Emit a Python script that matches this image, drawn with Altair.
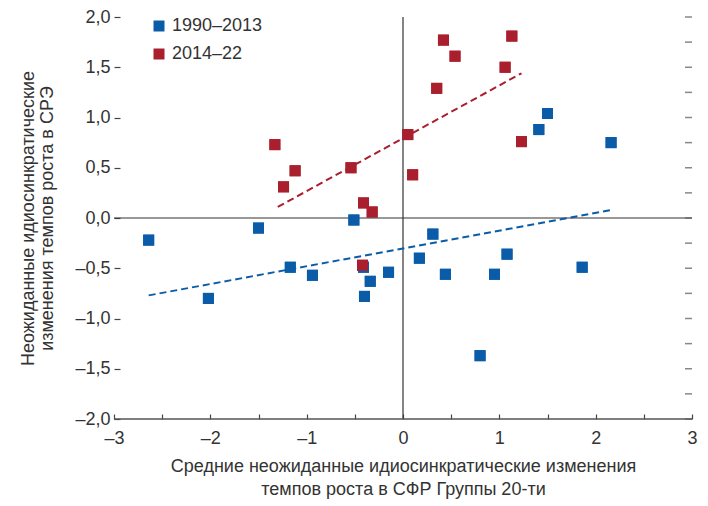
import altair as alt
import pandas as pd

# ---- data ----
series_names = ["1990–2013", "2014–22"]

blue_x = [-2.64, -2.02, -1.50, -1.17, -0.94, -0.51, -0.41, -0.34, -0.40, -0.15,
          0.17, 0.31, 0.44, 0.80, 0.95, 1.08, 1.86, 1.50, 1.41, 2.16]
blue_y = [-0.22, -0.80, -0.10, -0.49, -0.57, -0.02, -0.49, -0.63, -0.78, -0.54,
          -0.40, -0.16, -0.56, -1.37, -0.56, -0.36, -0.49, 1.04, 0.88, 0.75]

red_x = [-1.33, -1.24, -1.12, -0.54, -0.41, -0.32, 0.05, 0.10, 0.35, 0.42,
         0.54, 1.06, 1.13, 1.23, -0.42]
red_y = [0.73, 0.31, 0.47, 0.50, 0.15, 0.06, 0.83, 0.43, 1.29, 1.77,
         1.61, 1.50, 1.81, 0.76, -0.47]

# dashed trend lines (end points)
blue_fit_x = [-2.64, 2.16]
blue_fit_y = [-0.77, 0.08]
red_fit_x = [-1.30, 1.23]
red_fit_y = [0.11, 1.44]

x_ticks = [-3, -2.5, -2, -1.5, -1, -0.5, 0, 0.5, 1, 1.5, 2, 2.5, 3]
y_ticks = [-2, -1.75, -1.5, -1.25, -1, -0.75, -0.5, -0.25, 0,
           0.25, 0.5, 0.75, 1, 1.25, 1.5, 1.75, 2]

x_title = ["Средние неожиданные идиосинкратические изменения",
           "темпов роста в СФР Группы 20-ти"]
y_title = ["Неожиданные идиосинкратические",
           "изменения темпов роста в СРЭ"]

BLUE = "#0a5ca8"
RED = "#aa1f2e"
FONT = "Liberation Sans"

pts = pd.DataFrame({
    "px": blue_x + red_x,
    "py": blue_y + red_y,
    "series": [series_names[0]] * len(blue_x) + [series_names[1]] * len(red_x),
})
fits = pd.DataFrame({
    "fx": blue_fit_x + red_fit_x,
    "fy": blue_fit_y + red_fit_y,
    "series": [series_names[0]] * 2 + [series_names[1]] * 2,
})
hzero = pd.DataFrame({"hx": [-3.0], "hx2": [3.0], "hy": [0.0]})
vzero = pd.DataFrame({"vx": [0.0], "vy": [-2.0], "vy2": [2.0]})
bottom = pd.DataFrame({"bx": [-3.0], "bx2": [3.0], "by": [-2.0]})
right_ticks = pd.DataFrame({"rx": [3.0] * len(y_ticks), "ry": y_ticks})

xs = alt.Scale(domain=[-3, 3], nice=False, zero=False)
ys = alt.Scale(domain=[-2, 2], nice=False, zero=False)

x_label_expr = ("datum.value % 1 == 0 ? (datum.value < 0 ? '–' + abs(datum.value) : '' + datum.value) : ''")
y_label_expr = ("(datum.value * 2) % 1 == 0 ? (datum.value < 0 ? '–' : '') + "
                "replace(format(abs(datum.value), '.1f'), '.', ',') : ''")

x_axis = alt.Axis(values=x_ticks, labelExpr=x_label_expr, domain=False, grid=False,
                  tickSize=5, offset=-5, tickColor="#444", tickWidth=1.2,
                  labelPadding=10, labelFontSize=18, labelColor="#333", labelFont=FONT,
                  labelFlush=False, labelOverlap=False,
                  title=x_title, titleFontSize=18, titleFontWeight="normal",
                  titleColor="#333", titleFont=FONT, titlePadding=10, titleLineHeight=23)
y_axis = alt.Axis(values=y_ticks, labelExpr=y_label_expr, domain=False, grid=False,
                  tickSize=6, offset=-6, tickColor="#444", tickWidth=1.2,
                  labelPadding=4, labelFontSize=18, labelColor="#333", labelFont=FONT,
                  labelFlush=False, labelOverlap=False,
                  title=y_title, titleFontSize=18, titleFontWeight="normal",
                  titleColor="#333", titleFont=FONT, titlePadding=18, titleLineHeight=19)

points = alt.Chart(pts).mark_square(size=121, opacity=1).encode(
    x=alt.X("px:Q", scale=xs, axis=x_axis),
    y=alt.Y("py:Q", scale=ys, axis=y_axis),
    color=alt.Color("series:N", scale=alt.Scale(domain=series_names, range=[BLUE, RED]),
                    legend=alt.Legend(title=None, orient="none", legendX=36, legendY=0,
                                      symbolType="square", symbolSize=121,
                                      symbolStrokeWidth=0,
                                      labelFontSize=18, labelColor="#333", labelFont=FONT,
                                      labelOffset=4, rowPadding=10, padding=0)))

hz = alt.Chart(hzero).mark_rule(color="#333", strokeWidth=1.2).encode(
    x=alt.X("hx:Q", scale=xs), x2="hx2:Q",
    y=alt.Y("hy:Q", scale=ys))
vz = alt.Chart(vzero).mark_rule(color="#333", strokeWidth=1.2).encode(
    x=alt.X("vx:Q", scale=xs),
    y=alt.Y("vy:Q", scale=ys), y2="vy2:Q")
bt = alt.Chart(bottom).mark_rule(color="#555", strokeWidth=1.6).encode(
    x=alt.X("bx:Q", scale=xs), x2="bx2:Q",
    y=alt.Y("by:Q", scale=ys))
rt = alt.Chart(right_ticks).mark_tick(orient="horizontal", size=7, thickness=1.5,
                                      color="#555", xOffset=-3.5).encode(
    x=alt.X("rx:Q", scale=xs),
    y=alt.Y("ry:Q", scale=ys))

lines = alt.Chart(fits).mark_line(strokeDash=[7, 4], strokeWidth=2).encode(
    x=alt.X("fx:Q", scale=xs),
    y=alt.Y("fy:Q", scale=ys),
    stroke=alt.Stroke("series:N", scale=alt.Scale(domain=series_names, range=[BLUE, RED]),
                      legend=None),
    detail="series:N")

chart = alt.layer(points, hz, vz, bt, rt, lines, points).properties(
    width=578, height=402,
    autosize=alt.AutoSizeParams(type="none"),
    padding={"left": 106, "top": 9, "right": 8, "bottom": 87},
).configure_view(stroke=None)

chart.save("out.html", embed_options={"renderer": "svg", "actions": False})
